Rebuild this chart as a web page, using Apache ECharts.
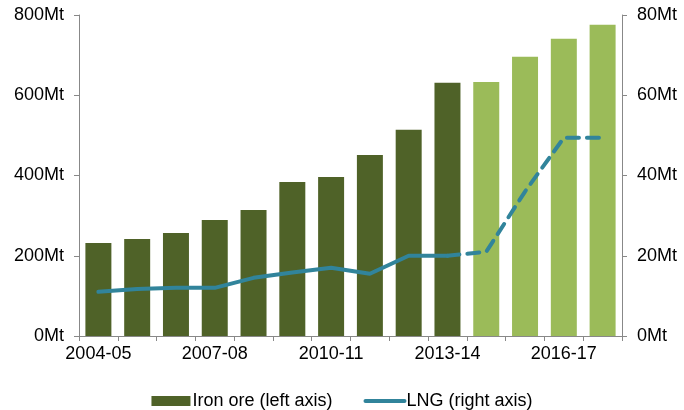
<!DOCTYPE html>
<html>
<head>
<meta charset="utf-8">
<script src="https://cdn.jsdelivr.net/npm/echarts@6/dist/echarts.min.js"></script>
<style>
  html, body { margin: 0; padding: 0; background: #fff; }
  #chart { width: 684px; height: 410px; }
</style>
</head>
<body>
<div id="chart"></div>
<script>
// Export volumes: iron ore (Mt, left axis) and LNG (Mt, right axis)
const categories = ['2004-05','2005-06','2006-07','2007-08','2008-09','2009-10','2010-11',
                    '2011-12','2012-13','2013-14','2014-15','2015-16','2016-17','2017-18'];
const ironOre = [232, 242, 257, 289, 314, 384, 396, 451, 514, 631, 633, 696, 741, 776];
const lngActual = [11, 11.7, 12, 12, 14.5, 15.8, 17, 15.5, 20, 20];
const lngProjected = [20, 21, 36, 49.4, 49.4];
const firstProjectedIdx = 10;   // bars from here on are forecasts
const leftTicks = [0, 200, 400, 600, 800];
const rightTicks = [0, 20, 40, 60, 80];

const DARK = '#4F6228', LIGHT = '#9BBB59', TEAL = '#31849B';
const FONT = 'Liberation Sans, Arial, sans-serif';
const FS = 18;

const barData = ironOre.map((v, i) => i >= firstProjectedIdx
  ? { value: v, itemStyle: { color: LIGHT } } : v);
const solidLine = categories.map((_, i) => i < lngActual.length ? lngActual[i] : '-');
const dashedLine = categories.map((_, i) => {
  const j = i - (lngActual.length - 1);
  return j >= 0 ? lngProjected[j] : '-';
});

const axisText = { color: '#000', fontFamily: FONT, fontSize: FS };
const axisLine = { show: true, lineStyle: { color: '#888', width: 1 } };

const chart = echarts.init(document.getElementById('chart'));
chart.setOption({
  animation: false,
  grid: { left: 79, right: 62, top: 15, bottom: 74, containLabel: false },
  legend: {
    top: 387, left: 'center', itemGap: 31, itemWidth: 39, itemHeight: 10,
    textStyle: { color: '#000', fontFamily: FONT, fontSize: FS, padding: [0, 0, 0, -3] },
    data: [
      { name: 'Iron ore (left axis)', icon: 'rect' },
      { name: 'LNG (right axis)',
        itemStyle: { color: 'rgba(0,0,0,0)', borderWidth: 0 },
        lineStyle: { color: TEAL, width: 4 } }
    ]
  },
  xAxis: {
    type: 'category', data: categories, boundaryGap: true,
    axisLine: axisLine,
    axisTick: { show: true, interval: 0, length: 5, lineStyle: { color: '#888' } },
    axisLabel: Object.assign({ interval: 2, margin: 9 }, axisText)
  },
  yAxis: [{
    type: 'value', min: leftTicks[0], max: leftTicks[leftTicks.length - 1], interval: 200,
    axisLine: axisLine,
    axisTick: { show: true, length: 5, lineStyle: { color: '#888' } },
    splitLine: { show: false },
    axisLabel: Object.assign({ formatter: v => v + 'Mt', margin: 15 }, axisText)
  }, {
    type: 'value', min: rightTicks[0], max: rightTicks[rightTicks.length - 1], interval: 20,
    position: 'right',
    axisLine: axisLine,
    axisTick: { show: true, length: 5, lineStyle: { color: '#888' } },
    splitLine: { show: false },
    axisLabel: Object.assign({ formatter: v => v + 'Mt', margin: 15 }, axisText)
  }],
  series: [{
    name: 'Iron ore (left axis)', type: 'bar', yAxisIndex: 0,
    barCategoryGap: '33%',
    itemStyle: { color: DARK },
    data: barData
  }, {
    name: 'LNG (right axis)', type: 'line', yAxisIndex: 1,
    symbol: 'none', connectNulls: false,
    lineStyle: { color: TEAL, width: 4, cap: 'round' },
    itemStyle: { color: TEAL },
    data: solidLine, z: 3
  }, {
    name: 'LNG projected', type: 'line', yAxisIndex: 1,
    symbol: 'none',
    lineStyle: { color: TEAL, width: 4, type: [12, 8], cap: 'round' },
    itemStyle: { color: TEAL },
    data: dashedLine, z: 3
  }]
});
</script>
</body>
</html>
